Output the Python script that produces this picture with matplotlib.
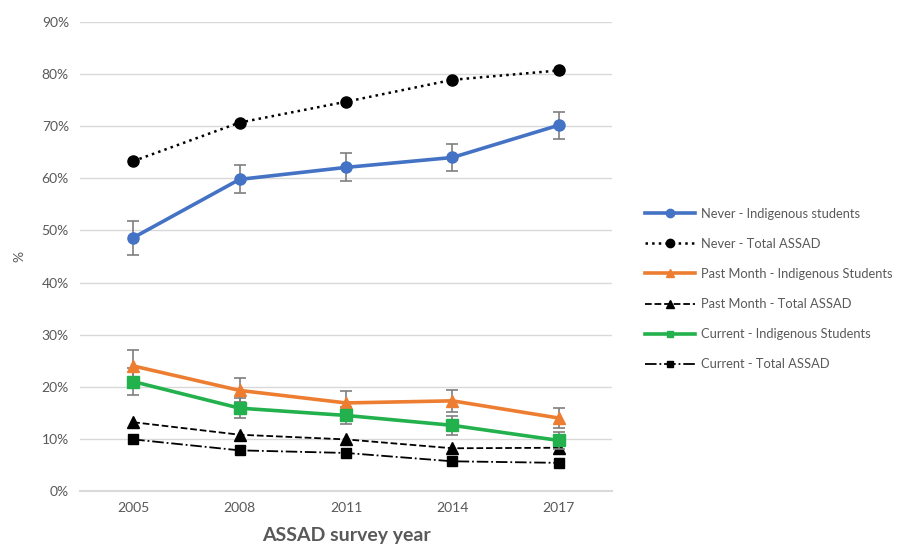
import matplotlib
matplotlib.use("Agg")
import matplotlib.pyplot as plt
from matplotlib.lines import Line2D
from matplotlib.ticker import PercentFormatter

plt.rcParams['font.family'] = ['Lato', 'DejaVu Sans']

# data (percent)
years = ['2005', '2008', '2011', '2014', '2017']

never_ind = [48.6, 59.8, 62.1, 64.0, 70.2]
never_ind_err = [3.3, 2.7, 2.7, 2.6, 2.6]
never_tot = [63.3, 70.7, 74.7, 78.9, 80.7]

month_ind = [24.0, 19.3, 16.9, 17.3, 14.0]
month_ind_err = [3.0, 2.3, 2.2, 2.1, 2.0]
month_tot = [13.2, 10.8, 9.9, 8.2, 8.3]

curr_ind = [21.0, 15.9, 14.5, 12.6, 9.7]
curr_ind_err = [2.6, 1.9, 1.7, 1.8, 1.7]
curr_tot = [9.9, 7.8, 7.3, 5.7, 5.4]

x = list(range(len(years)))
grey = '#595959'
errc = '#7f7f7f'
blue, orange, green = '#4472c4', '#ed7d31', '#22b14c'

fig = plt.figure(figsize=(8.98, 5.52), dpi=100)
ax = fig.add_axes([80/898, 1-491/552, 532/898, 469/552])

eb = dict(ecolor=errc, elinewidth=1.2, capsize=4, capthick=1.2, zorder=3)
ax.errorbar(x, never_ind, yerr=never_ind_err, color=blue, lw=2.6, marker='o', ms=8, **eb)
ax.plot(x, never_tot, color='black', ls=':', lw=1.8, marker='o', ms=8, zorder=3)
ax.errorbar(x, month_ind, yerr=month_ind_err, color=orange, lw=2.6, marker='^', ms=9, **eb)
ax.plot(x, month_tot, color='black', ls='--', lw=1.3, marker='^', ms=8, zorder=3)
ax.errorbar(x, curr_ind, yerr=curr_ind_err, color=green, lw=2.6, marker='s', ms=8, **eb)
ax.plot(x, curr_tot, color='black', ls='-.', lw=1.3, marker='s', ms=7, zorder=3)

ax.set_xlim(-0.5, len(years) - 0.5)
ax.set_ylim(0, 90)
ax.set_yticks(range(0, 91, 10))
ax.yaxis.set_major_formatter(PercentFormatter(decimals=0))
ax.set_xticks(x)
ax.set_xticklabels(years)
ax.grid(axis='y', color='#d9d9d9', lw=1)
ax.set_axisbelow(True)
for s in ['top', 'right', 'left']:
    ax.spines[s].set_visible(False)
ax.spines['bottom'].set_color('#d9d9d9')
ax.spines['bottom'].set_linewidth(1.5)
ax.tick_params(length=0, labelsize=10, labelcolor=grey, pad=8)

ax.set_ylabel('%', color=grey, fontsize=10, labelpad=12)
ax.set_xlabel('ASSAD survey year', color=grey, fontsize=14, fontweight='bold', labelpad=9)

handles = [
    Line2D([], [], color=blue, lw=2.6, marker='o', ms=6),
    Line2D([], [], color='black', ls=':', lw=1.8, marker='o', ms=6),
    Line2D([], [], color=orange, lw=2.6, marker='^', ms=6),
    Line2D([], [], color='black', ls='--', lw=1.3, marker='^', ms=6),
    Line2D([], [], color=green, lw=2.6, marker='s', ms=5),
    Line2D([], [], color='black', ls='-.', lw=1.3, marker='s', ms=5),
]
labels = ['Never - Indigenous students', 'Never - Total ASSAD',
          'Past Month - Indigenous Students', 'Past Month - Total ASSAD',
          'Current - Indigenous Students', 'Current - Total ASSAD']
fig.legend(handles, labels, loc='center left', bbox_to_anchor=(633/898, 1-289/552),
           frameon=False, fontsize=9.3, handlelength=3.9, handletextpad=0.5,
           labelspacing=1.4, labelcolor=grey)

fig.savefig('out.png', dpi=100)
